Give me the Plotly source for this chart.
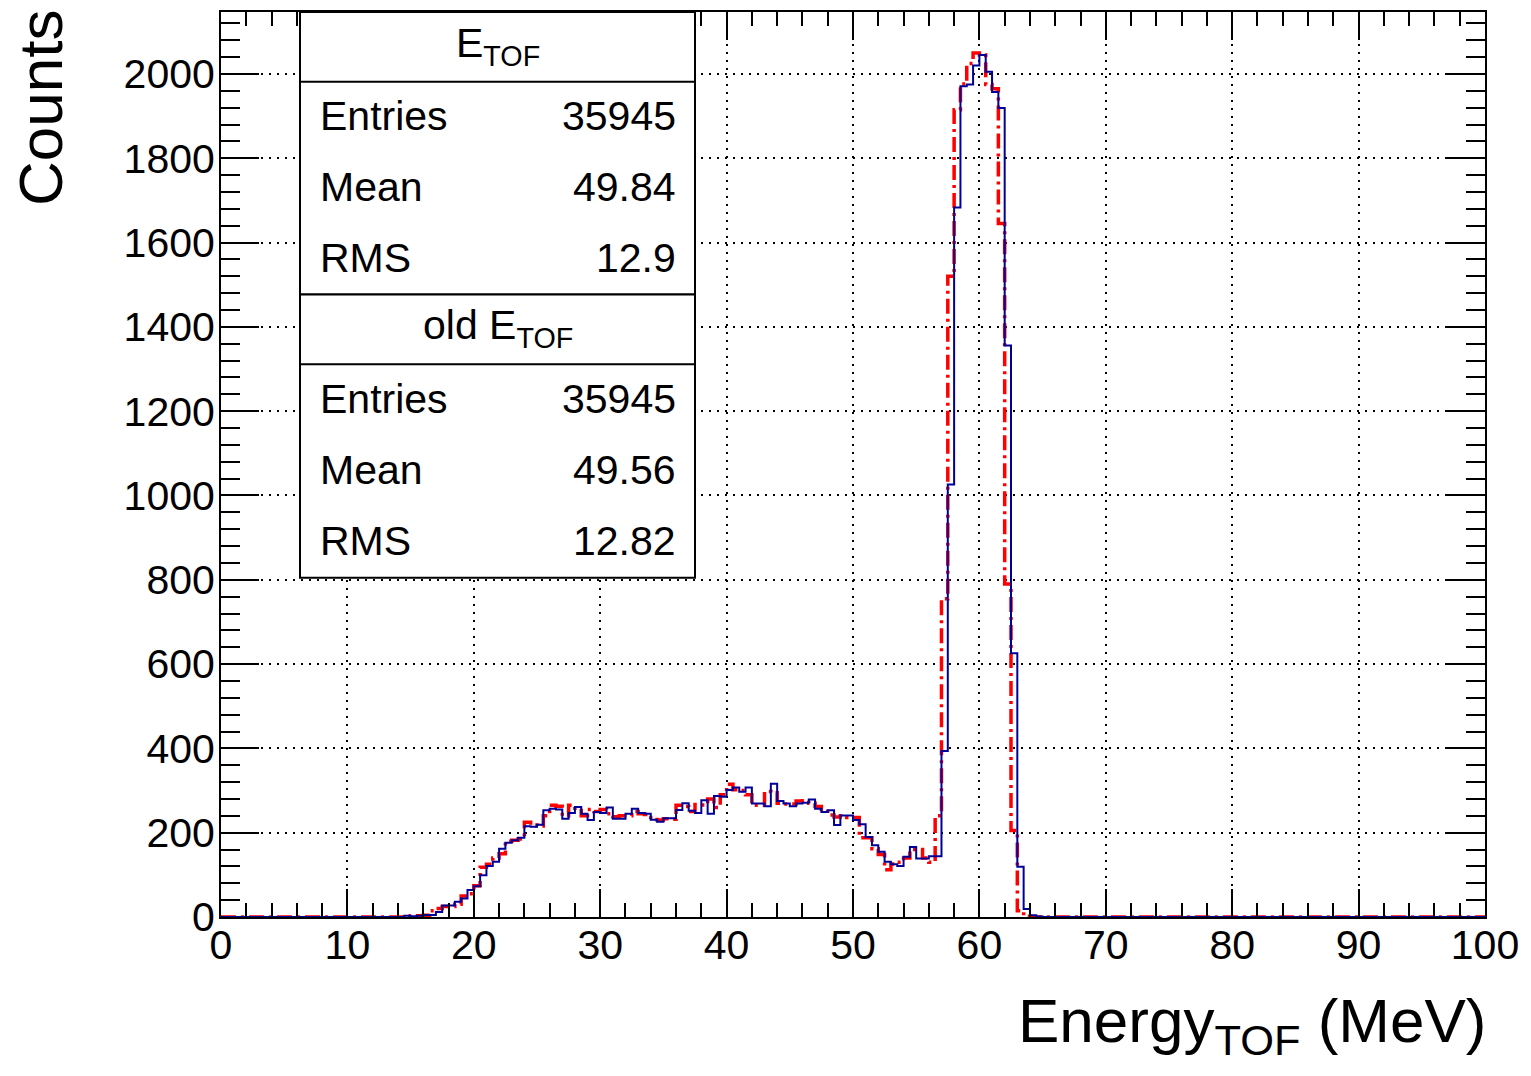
import plotly.graph_objects as go

# ---------------- data (0.5 MeV bins) ----------------
bin_width = 0.5
x_min, x_max = 0.0, 100.0
first_bin_low = 14.0  # counts below are zero

# E_TOF (blue), bins starting at 14.0 MeV
counts_new = [
    0, 3, 2, 3, 5, 5, 12, 27, 27, 36,            # 14.0 - 18.5
    44, 64, 73, 99, 121, 131, 162, 176, 182, 188,  # 19.0 - 23.5
    215, 214, 219, 253, 257, 255, 233, 247, 261, 245,  # 24.0 - 28.5
    230, 249, 247, 260, 233, 233, 245, 257, 247, 245,  # 29.0 - 33.5
    231, 226, 234, 234, 254, 270, 252, 247, 277, 245,  # 34.0 - 38.5
    287, 285, 301, 307, 297, 307, 269, 269, 263, 316,  # 39.0 - 43.5
    275, 269, 263, 269, 271, 279, 257, 249, 253, 218,  # 44.0 - 48.5
    241, 241, 230, 220, 190, 170, 155, 131, 125, 121,  # 49.0 - 53.5
    143, 166, 139, 139, 144, 144, 394, 1026, 1683, 1971,  # 54.0 - 58.5
    1975, 2020, 2045, 2005, 1957, 1919, 1356, 626, 119, 19,  # 59.0 - 63.5
    4, 1,                                          # 64.0 - 64.5
]

# old E_TOF (red), bins starting at 14.0 MeV
counts_old = [
    0, 2, 3, 3, 4, 15, 20, 25, 25, 30,
    50, 55, 74, 118, 125, 140, 150, 180, 182, 185,
    225, 218, 216, 240, 265, 263, 240, 265, 258, 240,
    255, 250, 255, 245, 238, 240, 240, 250, 245, 243,
    236, 230, 233, 232, 265, 262, 250, 267, 266, 280,
    260, 290, 315, 302, 300, 290, 265, 265, 298, 295,
    270, 268, 268, 275, 276, 270, 262, 255, 242, 237,
    240, 236, 236, 188, 188, 162, 148, 112, 126, 130,
    140, 160, 160, 140, 130, 240, 755, 1520, 1915, 1976,
    2025, 2050, 2045, 1975, 1965, 1645, 790, 205, 15, 2,
    0, 0,
]

stats_new = [("Entries", "35945"), ("Mean", "49.84"), ("RMS", "12.9")]
stats_old = [("Entries", "35945"), ("Mean", "49.56"), ("RMS", "12.82")]

x_tick_vals = [0, 10, 20, 30, 40, 50, 60, 70, 80, 90, 100]
y_tick_vals = [0, 200, 400, 600, 800, 1000, 1200, 1400, 1600, 1800, 2000]


def full_hist(partial):
    n_bins = int(round((x_max - x_min) / bin_width))
    offset = int(round((first_bin_low - x_min) / bin_width))
    vals = [0] * n_bins
    for i, v in enumerate(partial):
        vals[offset + i] = v
    edges = [x_min + i * bin_width for i in range(n_bins + 1)]
    return edges, vals + [vals[-1]]


fig = go.Figure()

ex, ey = full_hist(counts_old)
fig.add_trace(go.Scatter(
    x=ex, y=ey, mode="lines", line_shape="hv",
    line=dict(color="#ff0000", width=3.5, dash="15px,5px,3px,5px"),
    showlegend=False, hoverinfo="skip"))

ex, ey = full_hist(counts_new)
fig.add_trace(go.Scatter(
    x=ex, y=ey, mode="lines", line_shape="hv",
    line=dict(color="#000099", width=2),
    showlegend=False, hoverinfo="skip"))

FONT = "Liberation Sans, Arial, Helvetica, sans-serif"
W, H = 1531, 1076
ML, MR, MT, MB = 221, 46, 10, 159
PW, PH = W - ML - MR, H - MT - MB


def px_x(p):
    return (p - ML) / PW


def px_y(p):
    return (H - MB - p) / PH


axis_common = dict(
    showline=True, linecolor="black", linewidth=2, mirror="ticks",
    ticks="inside", tickcolor="black", tickwidth=2,
    showgrid=True, gridcolor="black", gridwidth=2, griddash="2px,6px",
    zeroline=False,
    tickfont=dict(family=FONT, size=41, color="black"),
)

fig.update_xaxes(
    range=[x_min, x_max], tickvals=x_tick_vals, ticklen=28,
    minor=dict(dtick=2, ticklen=14, ticks="inside", tickcolor="black", tickwidth=2, showgrid=False),
    ticklabelstandoff=-9,
    **axis_common)
fig.update_yaxes(
    range=[0, 2147], tickvals=y_tick_vals, ticklen=38,
    minor=dict(dtick=40, ticklen=19, ticks="inside", tickcolor="black", tickwidth=2, showgrid=False),
    ticklabelstandoff=-4,
    **axis_common)

shapes = []
annotations = []

# stats box
bx0, bx1 = px_x(300), px_x(695)
sections = [
    (10, 80, 293, "E<sub>TOF</sub>", stats_new),
    (293, 363, 577, "old E<sub>TOF</sub>", stats_old),
]
for top, mid, bot, title, rows in sections:
    shapes.append(dict(type="rect", xref="paper", yref="paper",
                       x0=bx0, x1=bx1, y0=px_y(bot), y1=px_y(top),
                       line=dict(color="black", width=2), fillcolor="white", layer="above"))
    shapes.append(dict(type="line", xref="paper", yref="paper",
                       x0=bx0, x1=bx1, y0=px_y(mid), y1=px_y(mid),
                       line=dict(color="black", width=2), layer="above"))
    annotations.append(dict(xref="paper", yref="paper", x=(bx0 + bx1) / 2, y=px_y((top + mid) / 2 - 1),
                            text=title, showarrow=False, xanchor="center", yanchor="middle",
                            font=dict(family=FONT, size=41, color="black")))
    row_h = (bot - mid) / 3
    for i, (lab, val) in enumerate(rows):
        yc = mid + row_h * (i + 0.5)
        annotations.append(dict(xref="paper", yref="paper", x=px_x(318), y=px_y(yc - 1),
                                text=lab, showarrow=False, xanchor="left", yanchor="middle",
                                font=dict(family=FONT, size=41, color="black")))
        annotations.append(dict(xref="paper", yref="paper", x=px_x(678), y=px_y(yc - 1),
                                text=val, showarrow=False, xanchor="right", yanchor="middle",
                                font=dict(family=FONT, size=41, color="black")))

# axis titles
annotations.append(dict(xref="paper", yref="paper", x=px_x(1488), y=px_y(984),
                        text="Energy<sub>TOF</sub> (MeV)", showarrow=False,
                        xanchor="right", yanchor="top",
                        font=dict(family=FONT, size=62, color="black")))
annotations.append(dict(xref="paper", yref="paper", x=px_x(40), y=px_y(6),
                        text="Counts", showarrow=False, textangle=-90,
                        xanchor="center", yanchor="top",
                        font=dict(family=FONT, size=62, color="black")))

fig.update_layout(
    width=W, height=H,
    margin=dict(l=ML, r=MR, t=MT, b=MB),
    paper_bgcolor="white", plot_bgcolor="white",
    shapes=shapes, annotations=annotations,
    showlegend=False,
)

fig.write_html("out.html")
